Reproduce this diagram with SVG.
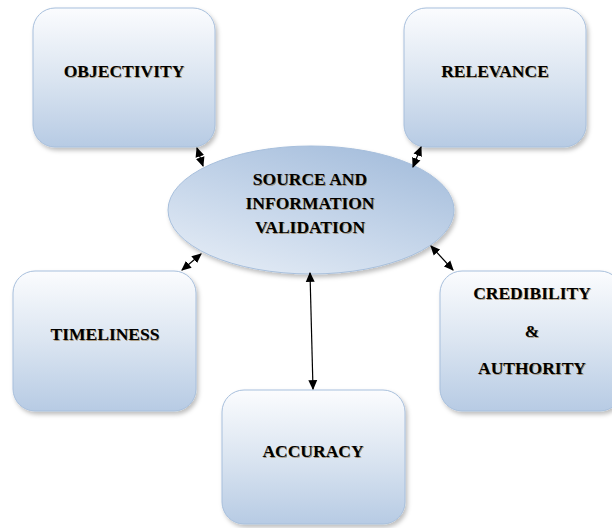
<svg xmlns="http://www.w3.org/2000/svg" width="612" height="528" viewBox="0 0 612 528">
<defs>
<linearGradient id="boxg" x1="0" y1="0" x2="0" y2="1">
<stop offset="0" stop-color="#fbfcfe"/>
<stop offset="0.5" stop-color="#dbe5f1"/>
<stop offset="1" stop-color="#b7cbe4"/>
</linearGradient>
<linearGradient id="ellg" x1="0.85" y1="0" x2="0.2" y2="1">
<stop offset="0" stop-color="#a3bcdb"/>
<stop offset="0.55" stop-color="#c6d6ea"/>
<stop offset="1" stop-color="#e3ebf5"/>
</linearGradient>
<filter id="sh" x="-10%" y="-10%" width="125%" height="125%">
<feDropShadow dx="2" dy="3" stdDeviation="2" flood-color="#000" flood-opacity="0.25"/>
</filter>
<marker id="ah" markerUnits="userSpaceOnUse" markerWidth="10" markerHeight="10" refX="8" refY="4" orient="auto-start-reverse" viewBox="0 0 9 8">
<path d="M0,0 L9,4 L0,8 Z" fill="#000"/>
</marker>
<style>
.box{fill:url(#boxg);stroke:#a7bfdc;stroke-width:1;filter:url(#sh)}
.ell{fill:url(#ellg);stroke:#a7bfdc;stroke-width:1;filter:url(#sh)}
text{font-family:'Liberation Serif','DejaVu Serif',serif;font-weight:bold;font-size:17.5px;text-anchor:middle}
.t{fill:#000}
.ts{fill:#8a6a3a;opacity:0.6}
.c{stroke:#000;stroke-width:1.2;fill:none;marker-start:url(#ah);marker-end:url(#ah)}
</style>
</defs>
<g id="objectivity">
<rect class="box" x="33" y="8" width="182" height="139" rx="22"/>
<text class="ts" x="124.8" y="77.8" font-family="Liberation Serif, serif">OBJECTIVITY</text>
<text class="t" x="124" y="77" font-family="Liberation Serif, serif">OBJECTIVITY</text>
</g>
<g id="relevance">
<rect class="box" x="404" y="8" width="182" height="139" rx="22"/>
<text class="ts" x="495.8" y="77.8" font-family="Liberation Serif, serif">RELEVANCE</text>
<text class="t" x="495" y="77" font-family="Liberation Serif, serif">RELEVANCE</text>
</g>
<g id="timeliness">
<rect class="box" x="13" y="271" width="183" height="140" rx="22"/>
<text class="ts" x="105.8" y="340.8" font-family="Liberation Serif, serif">TIMELINESS</text>
<text class="t" x="105" y="340" font-family="Liberation Serif, serif">TIMELINESS</text>
</g>
<g id="accuracy">
<rect class="box" x="222" y="390" width="183" height="134" rx="22"/>
<text class="ts" x="313.8" y="457.8" font-family="Liberation Serif, serif">ACCURACY</text>
<text class="t" x="313" y="457" font-family="Liberation Serif, serif">ACCURACY</text>
</g>
<g id="credibility">
<rect class="box" x="440" y="271" width="182" height="140" rx="22"/>
<text class="ts" x="532.8" y="299.8" font-family="Liberation Serif, serif">CREDIBILITY</text>
<text class="t" x="532" y="299" font-family="Liberation Serif, serif">CREDIBILITY</text>
<text class="ts" x="532.8" y="337.8" font-family="Liberation Serif, serif">&amp;</text>
<text class="t" x="532" y="337" font-family="Liberation Serif, serif">&amp;</text>
<text class="ts" x="532.8" y="374.8" font-family="Liberation Serif, serif">AUTHORITY</text>
<text class="t" x="532" y="374" font-family="Liberation Serif, serif">AUTHORITY</text>
</g>
<g id="center">
<ellipse class="ell" cx="311" cy="210" rx="143" ry="64"/>
<text class="ts" x="310.8" y="185.8" font-family="Liberation Serif, serif">SOURCE AND</text>
<text class="t" x="310" y="185" font-family="Liberation Serif, serif">SOURCE AND</text>
<text class="ts" x="310.8" y="209.8" font-family="Liberation Serif, serif">INFORMATION</text>
<text class="t" x="310" y="209" font-family="Liberation Serif, serif">INFORMATION</text>
<text class="ts" x="310.8" y="233.8" font-family="Liberation Serif, serif">VALIDATION</text>
<text class="t" x="310" y="233" font-family="Liberation Serif, serif">VALIDATION</text>
</g>
<g id="connectors">
<line class="c" x1="197" y1="148" x2="203" y2="166"/>
<line class="c" x1="421" y1="147" x2="413" y2="167"/>
<line class="c" x1="201" y1="254" x2="182" y2="270"/>
<line class="c" x1="431" y1="246" x2="453" y2="270"/>
<line class="c" x1="310" y1="273" x2="313" y2="389"/>
</g>
</svg>
